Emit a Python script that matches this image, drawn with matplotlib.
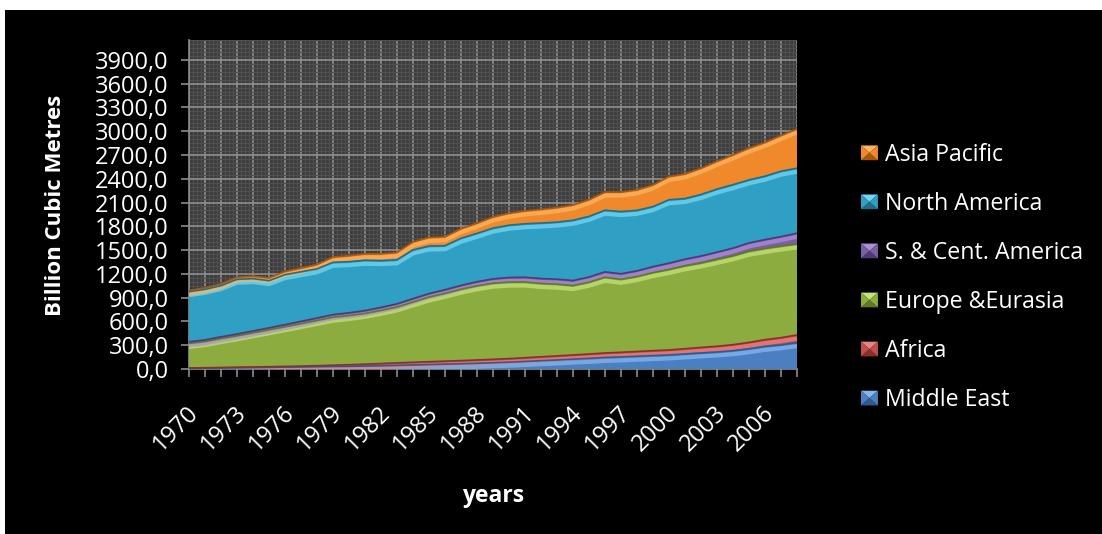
import matplotlib
matplotlib.use("Agg")
import matplotlib.pyplot as plt
import numpy as np
from matplotlib.patches import Patch, Polygon, Rectangle
from matplotlib.legend_handler import HandlerBase
from matplotlib.ticker import FuncFormatter, MultipleLocator
from matplotlib import transforms

plt.rcParams['font.family'] = ['Open Sans', 'DejaVu Sans']

# gas consumption by region, billion cubic metres
years = list(range(1970, 2009))
middle_east = [10, 12, 14, 17, 19, 21, 24, 26, 29, 32,
               34, 37, 41, 46, 51, 56, 61, 66, 72, 79,
               86, 95, 105, 114, 124, 134, 145, 152, 161, 169,
               177, 190, 203, 215, 231, 255, 285, 305, 332]
africa = [3, 4, 5, 6, 7, 8, 9, 11, 13, 16,
          20, 24, 28, 31, 34, 36, 38, 40, 42, 43,
          45, 47, 49, 51, 53, 55, 57, 59, 60, 62,
          63, 66, 69, 72, 76, 80, 85, 90, 97]
europe = [310, 330, 365, 395, 430, 465, 500, 535, 570, 605,
          620, 640, 670, 705, 760, 815, 855, 900, 935, 960,
          965, 955, 925, 905, 875, 905, 955, 920, 945, 985,
          1015, 1045, 1065, 1095, 1120, 1150, 1150, 1155, 1148]
s_cent_america = [20, 21, 22, 23, 24, 25, 27, 29, 31, 33,
                  35, 36, 38, 40, 42, 44, 46, 48, 52, 55,
                  58, 60, 62, 63, 64, 66, 68, 70, 72, 75,
                  80, 84, 88, 92, 98, 105, 112, 120, 135]
north_america = [632, 638, 645, 690, 660, 595, 630, 625, 620, 660,
                 645, 635, 590, 555, 615, 600, 555, 595, 610, 640,
                 660, 675, 700, 720, 760, 765, 778, 785, 763, 757,
                 800, 765, 776, 795, 800, 795, 800, 825, 821]
asia_pacific = [15, 18, 22, 26, 30, 35, 40, 47, 55, 65,
                75, 80, 85, 92, 100, 108, 112, 120, 128, 140,
                150, 162, 172, 182, 192, 210, 228, 245, 258, 272,
                292, 310, 330, 350, 375, 400, 425, 450, 495]

series = [
    ("Middle East", middle_east, '#4a7fc1', '#86b6ee', '#2d5a91'),
    ("Africa", africa, '#c0504d', '#e98480', '#8c2f2c'),
    ("Europe &Eurasia", europe, '#8cac3f', '#c6e27c', '#5e7a22'),
    ("S. & Cent. America", s_cent_america, '#7b5ea6', '#ab90d6', '#4f3a73'),
    ("North America", north_america, '#2f9fc3', '#74d6f2', '#1f6f88'),
    ("Asia Pacific", asia_pacific, '#f0892b', '#fbb463', '#a9570f'),
]


class BevelKey(HandlerBase):
    # square legend key with a bevelled, pyramid-like look
    def create_artists(self, legend, orig_handle, xdescent, ydescent,
                       width, height, fontsize, trans):
        x0, y0 = -xdescent, -ydescent
        x1, y1 = x0 + width, y0 + height
        cx, cy = (x0 + x1) / 2, (y0 + y1) / 2
        base, light, dark = orig_handle.colors
        parts = [
            ([(x0, y1), (x1, y1), (cx, cy)], light),
            ([(x0, y0), (x1, y0), (cx, cy)], dark),
            ([(x0, y0), (x0, y1), (cx, cy)], base),
            ([(x1, y0), (x1, y1), (cx, cy)], base),
        ]
        arts = []
        for pts, col in parts:
            p = Polygon(pts, closed=True, facecolor=col, edgecolor='none',
                        transform=trans)
            arts.append(p)
        return arts


fig = plt.figure(figsize=(11.02, 5.34), dpi=100)
fig.patch.set_facecolor('white')
fig.patches.append(Rectangle((5 / 1102, 0), 1097 / 1102, 1 - 10 / 534,
                             transform=fig.transFigure, facecolor='black',
                             edgecolor='none', zorder=-10))

ax = fig.add_axes([189 / 1102, 1 - 369 / 534, 608 / 1102, 329 / 534])
ax.set_facecolor('#3b3b3b')

x = np.array(years)
bottom = np.zeros(len(years))
tops = []
for name, vals, col, light, dark in series:
    top = bottom + np.array(vals)
    ax.fill_between(x, bottom, top, facecolor=col, edgecolor='none', zorder=3)
    tops.append((top, light, dark))
    bottom = top

# highlight just under each top edge, then a dark rim on the edge
down = ax.transData + transforms.ScaledTranslation(0, -2.5 / 72, fig.dpi_scale_trans)
for top, light, dark in tops:
    ax.plot(x, top, color=light, lw=3, alpha=0.75, transform=down, zorder=4,
            solid_capstyle='butt')
    ax.plot(x, top, color=dark, lw=1.2, zorder=5)

ax.set_xlim(1970, 2008)
ax.set_ylim(0, 4150)

# patterned grid
ax.yaxis.set_major_locator(MultipleLocator(300))
ax.yaxis.set_minor_locator(MultipleLocator(50))
ax.xaxis.set_major_locator(MultipleLocator(1))
ax.xaxis.set_minor_locator(MultipleLocator(0.25))
ax.grid(which='minor', color='#505050', lw=0.9, zorder=0)
ax.grid(which='major', color='#8a8a8a', lw=1.3, zorder=1)
ax.set_axisbelow(True)

ax.yaxis.set_major_formatter(FuncFormatter(lambda v, p: f"{v:.1f}".replace('.', ',')))
ax.tick_params(axis='y', which='major', colors='#8c8c8c', length=6, width=1.2,
               labelcolor='white', labelsize=17, pad=8.5)
ax.tick_params(axis='x', which='major', colors='#8c8c8c', length=6, width=1.2,
               labelcolor='white', labelsize=17)
ax.tick_params(which='minor', length=0)

labels = [str(y) if (y - 1970) % 3 == 0 else '' for y in years]
ax.set_xticks(years)
ax.set_xticklabels(labels, rotation=45, ha='right', va='center',
                   rotation_mode='anchor')
shift = transforms.ScaledTranslation(6 / 100, -27 / 100, fig.dpi_scale_trans)
for lab in ax.get_xticklabels():
    lab.set_transform(lab.get_transform() + shift)

for side in ['top', 'right']:
    ax.spines[side].set_visible(False)
ax.spines['left'].set_color('#8c8c8c')
ax.spines['bottom'].set_color('#8c8c8c')
ax.spines['left'].set_linewidth(1.2)
ax.spines['bottom'].set_linewidth(1.2)

fig.text(56 / 1102, 1 - 205 / 534, "Billion Cubic Metres", rotation=90,
         ha='center', va='center', color='white', fontsize=16, fontweight='bold')
fig.text(493 / 1102, 1 - 496 / 534, "years", ha='center', va='center',
         color='white', fontsize=16.5, fontweight='bold')

handles = []
for name, vals, col, light, dark in reversed(series):
    h = Patch(facecolor=col, label=name)
    h.colors = (col, light, dark)
    handles.append(h)
fig.legend(handles=handles, labels=[h.get_label() for h in handles],
           loc='upper left', bbox_to_anchor=(861 / 1102, 1 - 143 / 534),
           frameon=False, fontsize=16.7, labelcolor='white',
           handlelength=0.73, handleheight=0.6, handletextpad=0.3,
           labelspacing=1.08, borderpad=0, borderaxespad=0,
           handler_map={Patch: BevelKey()})

fig.savefig("out.png", dpi=100, facecolor=fig.get_facecolor())
